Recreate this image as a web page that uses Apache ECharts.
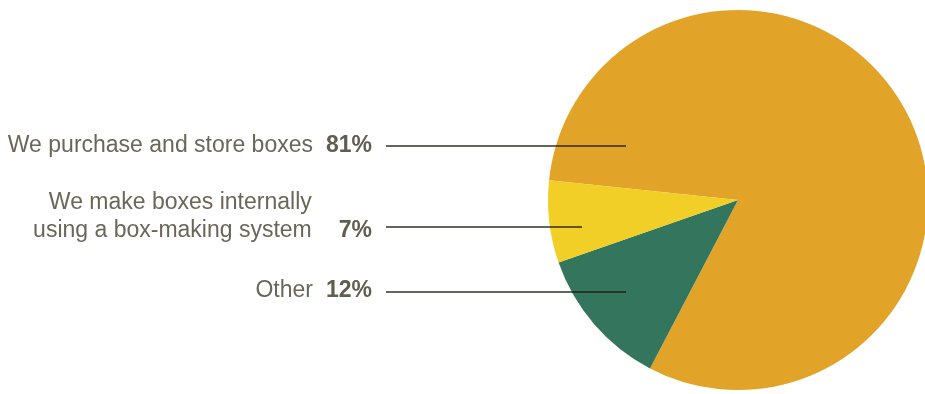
<!DOCTYPE html>
<html>
<head>
<meta charset="utf-8">
<script src="https://cdn.jsdelivr.net/npm/echarts@6/dist/echarts.min.js"></script>
<style>html,body{margin:0;padding:0;background:#fff;}#c{width:925px;height:394px;}</style>
</head>
<body>
<div id="c"></div>
<script>
var categories = ['We purchase and store boxes', 'Other', 'We make boxes internally\nusing a box-making system'];
var values = [81, 12, 7];
var colors = ['#E2A428', '#33765D', '#F2CF27'];

var labelPos = [
  { y: 146, lineY: 146, lineEnd: 626 },
  { y: 291, lineY: 292, lineEnd: 626 },
  { y: 217, lineY: 227, lineEnd: 582 }
];

function fmt(p) {
  var name = categories[p.dataIndex];
  var pct = values[p.dataIndex] + '%';
  var lines = name.split('\n');
  if (lines.length === 1) return '{n|' + lines[0] + '}{p|' + pct + '}';
  return '{n|' + lines[0] + '}{h|' + pct + '}\n{n|' + lines[1] + '}{p2|' + pct + '}';
}

var FF = '"Liberation Sans", Arial, Helvetica, sans-serif';
var FS = 23;
var pieData = values.map(function (v, i) {
  return { value: v, name: categories[i], itemStyle: { color: colors[i] } };
});
var chart = echarts.init(document.getElementById('c'));
chart.setOption({
  animation: false,
  series: [{
    type: 'pie',
    z: 1,
    center: [738, 200],
    radius: 190,
    startAngle: 174,
    clockwise: true,
    silent: true,
    data: pieData,
    label: { show: false },
    labelLine: { show: false }
  }, {
    type: 'pie',
    z: 5,
    center: [738, 200],
    radius: 190,
    startAngle: 174,
    clockwise: true,
    silent: true,
    avoidLabelOverlap: false,
    itemStyle: { color: 'rgba(0,0,0,0)' },
    data: values.map(function (v, i) { return { value: v, name: categories[i] }; }),
    label: {
      show: true,
      position: 'outside',
      overflow: 'none',
      formatter: fmt,
      lineHeight: 28,
      rich: {
        n: { fontFamily: FF, fontSize: FS, color: '#6b6658', lineHeight: 28 },
        p: { fontFamily: FF, fontSize: FS, fontWeight: 'bold', color: '#625d50', lineHeight: 28, padding: [0, 0, 0, 13] },
        p2: { fontFamily: FF, fontSize: FS, fontWeight: 'bold', color: '#625d50', lineHeight: 28, padding: [0, 0, 0, 27] },
        h: { fontFamily: FF, fontSize: FS, fontWeight: 'bold', color: 'rgba(0,0,0,0)', lineHeight: 28, padding: [0, 0, 0, 27] }
      }
    },
    labelLine: {
      show: true,
      showAbove: true,
      lineStyle: { color: 'rgba(30,26,16,0.68)', width: 2 }
    },
    labelLayout: function (params) {
      var lp = labelPos[params.dataIndex];
      return {
        x: 372,
        y: lp.y,
        align: 'right',
        verticalAlign: 'middle',
        labelLinePoints: [[386, lp.lineY], [500, lp.lineY], [lp.lineEnd, lp.lineY]]
      };
    }
  }]
});
</script>
</body>
</html>
